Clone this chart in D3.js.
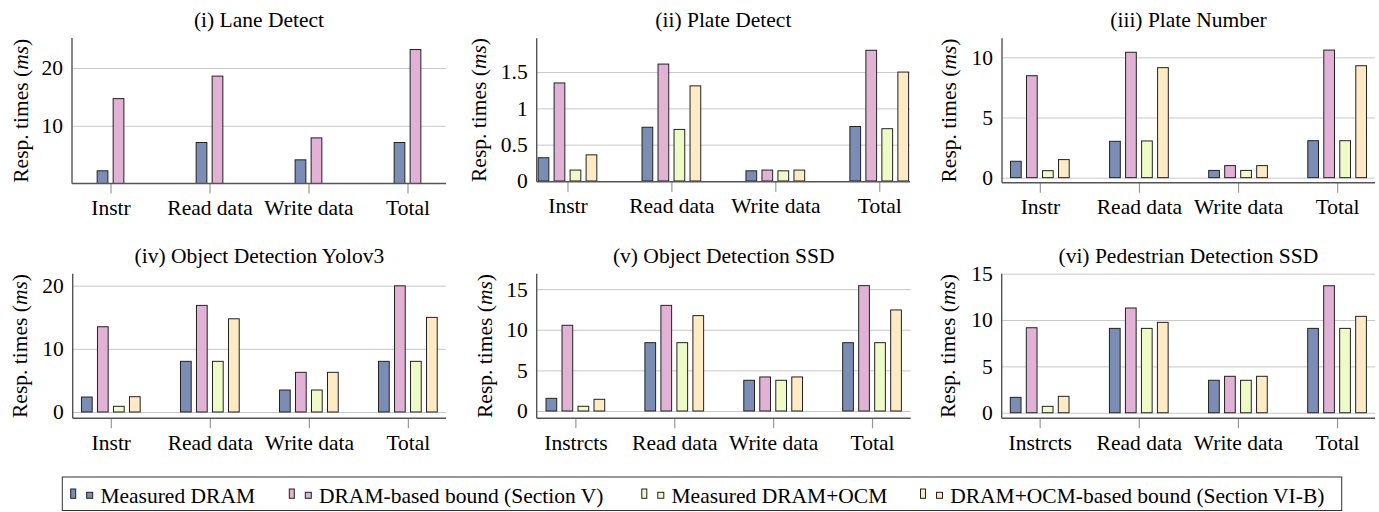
<!DOCTYPE html>
<html>
<head>
<meta charset="utf-8">
<script src="https://cdn.jsdelivr.net/npm/d3@7"></script>
<style>
  body { margin: 0; background: #fff; }
  svg { display: block; }
</style>
</head>
<body>
<div id="chart"></div>
<script>
// series + categories
const seriesNames = ['Measured DRAM', 'DRAM-based bound (Section V)', 'Measured DRAM+OCM', 'DRAM+OCM-based bound (Section VI-B)'];
const catsInstr = ['Instr', 'Read data', 'Write data', 'Total'];
const catsInstrcts = ['Instrcts', 'Read data', 'Write data', 'Total'];
const panelTitles = ['(i) Lane Detect', '(ii) Plate Detect', '(iii) Plate Number',
    '(iv) Object Detection Yolov3', '(v) Object Detection SSD', '(vi) Pedestrian Detection SSD'];

// values per panel, one array per series (Instr, Read, Write, Total)
const laneDetect = [
    [2.2, 7.1, 4.1, 7.1],
    [14.7, 18.6, 7.9, 23.2]
];
const plateDetect = [
    [0.32, 0.74, 0.14, 0.75],
    [1.35, 1.61, 0.15, 1.80],
    [0.15, 0.71, 0.14, 0.72],
    [0.36, 1.31, 0.15, 1.50]
];
const plateNumber = [
    [1.36, 3.02, 0.6, 3.07],
    [8.47, 10.42, 1.0, 10.6],
    [0.58, 3.05, 0.6, 3.07],
    [1.5, 9.14, 1.0, 9.3]
];
const yolov3 = [
    [2.37, 8.02, 3.48, 8.02],
    [13.5, 16.88, 6.28, 19.98],
    [0.9, 8.02, 3.48, 8.02],
    [2.42, 14.76, 6.28, 14.98]
];
const ssdObject = [
    [1.56, 8.41, 3.78, 8.41],
    [10.55, 13.0, 4.19, 15.43],
    [0.58, 8.41, 3.78, 8.41],
    [1.44, 11.74, 4.19, 12.44]
];
const ssdPedestrian = [
    [1.66, 9.1, 3.5, 9.1],
    [9.17, 11.3, 3.93, 13.7],
    [0.69, 9.1, 3.5, 9.1],
    [1.77, 9.75, 3.93, 10.4]
];
const yTicks = [[10, 20], [0, 0.5, 1, 1.5], [0, 5, 10], [0, 10, 20], [0, 5, 10, 15], [0, 5, 10, 15]];

const colors = ['#7c8db5', '#e1b1d6', '#eefac7', '#feeac5'];

// panel frames (pixel layout)
const frames = [
    { x0: 72, x1: 446, y0: 38, y1: 183.5, dom: [0, 25.2], pad: 0.389, yl: 52 },
    { x0: 536.7, x1: 910, y0: 38.3, y1: 181.7, dom: [-0.01, 1.965], pad: 0.296, yl: 58.5 },
    { x0: 1002, x1: 1375, y0: 38.3, y1: 182.7, dom: [-0.42, 11.58], pad: 0.382, yl: 54 },
    { x0: 72.7, x1: 446, y0: 273.7, y1: 418.3, dom: [-1.0, 21.9], pad: 0.385, yl: 53 },
    { x0: 536.7, x1: 910.7, y0: 273.7, y1: 418.3, dom: [-0.9, 16.9], pad: 0.391, yl: 52.5 },
    { x0: 1001.7, x1: 1375, y0: 273.7, y1: 418.3, dom: [-0.6, 15], pad: 0.383, yl: 54 }
];

const panelData = [laneDetect, plateDetect, plateNumber, yolov3, ssdObject, ssdPedestrian];
const panelCats = [catsInstr, catsInstr, catsInstr, catsInstr, catsInstrcts, catsInstrcts];

const fontSize = '21.5px';

const svg = d3.select('#chart').append('svg')
    .attr('width', 1379)
    .attr('height', 512);

function drawPanel(f, title, cats, data, ticks) {
    const g = svg.append('g');

    const x = d3.scalePoint().domain(cats).range([f.x0, f.x1]).padding(f.pad);
    const y = d3.scaleLinear().domain(f.dom).range([f.y1, f.y0]);
    const inner = d3.scaleBand()
        .domain(d3.range(data.length))
        .range([-8 * data.length, 8 * data.length])
        .paddingInner(0.33)
        .paddingOuter(0.165);

    // grid + y labels
    const yAxis = g.append('g')
        .attr('transform', `translate(${f.x0},0)`)
        .call(d3.axisLeft(y).tickValues(ticks).tickSize(-(f.x1 - f.x0)).tickPadding(9)
            .tickFormat(d3.format('~g')));
    yAxis.select('.domain').remove();
    yAxis.selectAll('.tick line').attr('stroke', '#c8c8c8').attr('stroke-width', 1);
    yAxis.selectAll('.tick text').attr('fill', '#000');

    // x axis ticks + labels
    const xAxis = g.append('g')
        .attr('transform', `translate(0,${f.y1})`)
        .call(d3.axisBottom(x).tickSize(10).tickPadding(6.5));
    xAxis.select('.domain').remove();
    xAxis.selectAll('.tick line').attr('stroke', '#999').attr('stroke-width', 1.2);
    xAxis.selectAll('.tick text').attr('fill', '#000');

    // bars
    data.forEach((vals, s) => {
        g.append('g')
            .selectAll('rect')
            .data(vals)
            .enter()
            .append('rect')
            .attr('x', (d, i) => x(cats[i]) + inner(s))
            .attr('width', inner.bandwidth())
            .attr('y', d => y(d))
            .attr('height', d => y(0) - y(d))
            .attr('fill', colors[s])
            .attr('stroke', '#222')
            .attr('stroke-width', 1);
    });

    // axis lines
    g.append('line')
        .attr('x1', f.x0).attr('x2', f.x0)
        .attr('y1', f.y0).attr('y2', f.y1)
        .attr('stroke', '#555').attr('stroke-width', 1.4);
    g.append('line')
        .attr('x1', f.x0).attr('x2', f.x1)
        .attr('y1', f.y1).attr('y2', f.y1)
        .attr('stroke', '#555').attr('stroke-width', 1.4);

    // title
    g.append('text')
        .attr('x', (f.x0 + f.x1) / 2)
        .attr('y', f.y0 - 11)
        .attr('text-anchor', 'middle')
        .text(title);

    // y label
    const yl = g.append('text')
        .attr('transform', `translate(${f.x0 - f.yl},${(f.y0 + f.y1) / 2}) rotate(-90)`)
        .attr('text-anchor', 'middle')
        .attr('dy', '0.35em');
    yl.append('tspan').text('Resp. times (');
    yl.append('tspan').style('font-style', 'italic').text('ms');
    yl.append('tspan').text(')');
}

frames.forEach((f, i) => drawPanel(f, panelTitles[i], panelCats[i], panelData[i], yTicks[i]));

// legend
const legendStarts = [70.7, 289.3, 641.8, 920.5];
const legend = svg.append('g');
legend.append('rect')
    .attr('x', 62.3).attr('y', 477)
    .attr('width', 1341.7 - 62.3).attr('height', 33.5)
    .attr('fill', 'none')
    .attr('stroke', '#333')
    .attr('stroke-width', 1);

seriesNames.forEach((name, s) => {
    const lx = legendStarts[s];
    legend.append('rect')
        .attr('x', lx).attr('y', 489)
        .attr('width', 5).attr('height', 9.3)
        .attr('fill', colors[s]).attr('stroke', '#222').attr('stroke-width', 1);
    legend.append('rect')
        .attr('x', lx + 16).attr('y', 492.3)
        .attr('width', 6).attr('height', 6)
        .attr('fill', colors[s]).attr('stroke', '#222').attr('stroke-width', 1);
    legend.append('text')
        .attr('x', lx + 29.7).attr('y', 503)
        .text(name);
});

// same font on every text node
svg.selectAll('text')
    .style('font-family', 'Liberation Serif')
    .style('font-size', fontSize);
</script>
</body>
</html>
